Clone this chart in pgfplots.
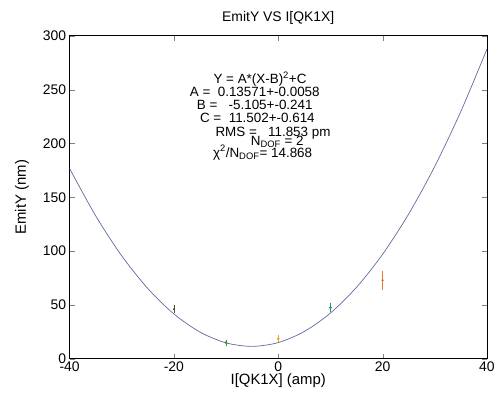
\documentclass[border=0pt]{standalone}
\usepackage{fontspec}
\setmainfont{Liberation Sans}
\usepackage{pgfplots}
\pgfplotsset{compat=1.18}
\definecolor{fitline}{RGB}{95,105,160}
\definecolor{ptA}{RGB}{90,70,40}
\definecolor{ptB}{RGB}{60,150,40}
\definecolor{ptC}{RGB}{235,170,40}
\definecolor{ptD}{RGB}{40,150,110}
\definecolor{ptE}{RGB}{230,120,40}

\begin{document}
\begin{tikzpicture}
\begin{axis}[
    scale only axis,
    width=420pt, height=325pt,
    xmin=-40, xmax=40,
    ymin=0, ymax=300,
    xtick={-40,-20,0,20,40},
    ytick={0,50,100,150,200,250,300},
    tick align=inside,
    major tick length=5pt,
    /pgf/number format/assume math mode=true,
    tick label style={font=\fontsize{14}{16}\selectfont},
    label style={font=\fontsize{15}{17}\selectfont},
    title style={font=\fontsize{14}{16}\selectfont, yshift=2pt},
    title={EmitY VS I[QK1X]},
    xlabel={I[QK1X] (amp)},
    ylabel={EmitY (nm)},
    xlabel style={yshift=5pt},
    ylabel style={yshift=7pt},
    axis line style={line width=0.8pt},
    clip=true,
]
% fitted parabola
\addplot[fitline, line width=0.7pt, smooth] coordinates {
    (-40,176.75) (-35,132.79) (-30,95.61) (-25,65.22) (-20,41.61)
    (-15,24.79) (-10,14.75) (-5,11.50) (0,15.04) (5,25.36)
    (10,42.46) (15,66.36) (20,97.03) (25,134.50) (30,178.74)
    (35,229.78) (40,287.60)
};
% measured points
\addplot[ptA, mark=*, mark size=0.8pt, only marks,
    error bars/.cd, y dir=both, y explicit,
    error bar style={line width=0.8pt}, error mark options={mark size=1.5pt}]
    coordinates {(-20,46) +- (0,2.5)};
\addplot[ptB, mark=*, mark size=1.2pt, only marks,
    error bars/.cd, y dir=both, y explicit,
    error bar style={line width=0.8pt}, error mark options={mark size=1.5pt}]
    coordinates {(-10,15) +- (0,1.5)};
\addplot[ptC, mark=*, mark size=1.2pt, only marks,
    error bars/.cd, y dir=both, y explicit,
    error bar style={line width=0.8pt}, error mark options={mark size=1.5pt}]
    coordinates {(0,18.5) +- (0,2)};
\addplot[ptD, mark=*, mark size=1.2pt, only marks,
    error bars/.cd, y dir=both, y explicit,
    error bar style={line width=0.8pt}, error mark options={mark size=1.5pt}]
    coordinates {(10,47.5) +- (0,3)};
\addplot[ptE, mark=*, mark size=1pt, only marks,
    error bars/.cd, y dir=both, y explicit,
    error bar style={line width=0.8pt}, error mark options={mark size=2pt}]
    coordinates {(20,73) +- (0,7)};
% fit results
\begin{scope}[font=\fontsize{13.5}{15}\selectfont]
\node at (axis cs:-3.5,259.5) {Y = A*(X-B)\textsuperscript{2}+C};
\node at (axis cs:-4.5,247.5) {A =\ \ 0.13571+-0.0058};
\node at (axis cs:-4.5,235.5) {B =\ \ \ -5.105+-0.241};
\node at (axis cs:-4.0,223.5) {C =\ \ 11.502+-0.614};
\node at (axis cs:-1.0,209.5) {RMS =\ \ \ 11.853 pm};
\node at (axis cs:-2.0,201.5) {\hspace{1.4em}N\textsubscript{DOF} = 2};
\node at (axis cs:-3.0,191.5) {χ\textsuperscript{2}/N\textsubscript{DOF}=\ 14.868};
\end{scope}
\end{axis}
\useasboundingbox ([shift={(-70pt,-46pt)}]current axis.south west)
    rectangle ([shift={(8pt,36pt)}]current axis.north east);
\end{tikzpicture}
\end{document}
